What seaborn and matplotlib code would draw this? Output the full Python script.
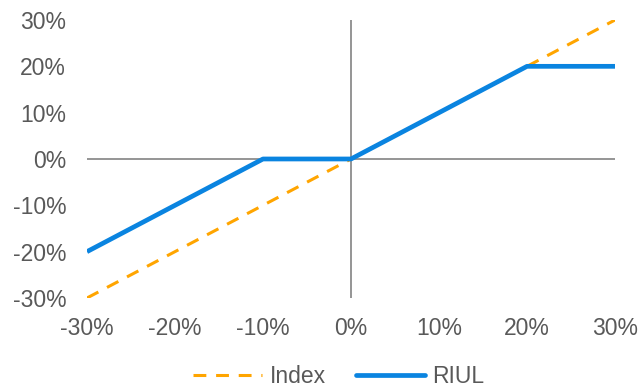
import matplotlib
matplotlib.use("Agg")
import matplotlib.pyplot as plt
import seaborn as sns
import pandas as pd
from matplotlib.ticker import PercentFormatter
from matplotlib.lines import Line2D

# Index return vs. RIUL credited return (%)
index_x = [-30, 30]
index_y = [-30, 30]
riul_x = [-30, -10, 0, 20, 30]
riul_y = [-20, 0, 0, 20, 20]
ticks = [-30, -20, -10, 0, 10, 20, 30]

sns.set_style("white")
plt.rcParams["font.family"] = ["Liberation Sans", "DejaVu Sans"]
plt.rcParams["axes.unicode_minus"] = False

df = pd.concat([
    pd.DataFrame({"x": index_x, "y": index_y, "series": "Index"}),
    pd.DataFrame({"x": riul_x, "y": riul_y, "series": "RIUL"}),
])

DASH = (4.2, 3.2)

fig = plt.figure(figsize=(6.43, 3.89), dpi=100)
ax = fig.add_axes([0.1353, 0.234, 0.8212, 0.7146])

ax.axhline(0, color="#8c8c8c", lw=1.3, zorder=1)
ax.axvline(0, color="#8c8c8c", lw=1.3, zorder=1)

sns.lineplot(data=df, x="x", y="y", hue="series", style="series",
             palette={"Index": "#FFA500", "RIUL": "#0A84E0"},
             dashes={"Index": DASH, "RIUL": ""},
             size="series", sizes={"Index": 2.2, "RIUL": 3.4},
             ax=ax, legend=False, zorder=3)
for ln in ax.lines[2:]:
    ln.set_solid_capstyle("butt")
    ln.set_dash_capstyle("butt")

ax.set_xlim(-30, 30)
ax.set_ylim(-30, 30)
ax.set_xticks(ticks)
ax.set_yticks(ticks)
ax.xaxis.set_major_formatter(PercentFormatter(decimals=0))
ax.yaxis.set_major_formatter(PercentFormatter(decimals=0))
ax.tick_params(axis="both", length=0, labelsize=16.5, colors="#595959")
ax.tick_params(axis="x", pad=14)
ax.tick_params(axis="y", pad=15)
ax.set_xlabel("")
ax.set_ylabel("")
for s in ax.spines.values():
    s.set_visible(False)

handles = [Line2D([], [], color="#FFA500", lw=2.2, ls=(0, DASH)),
           Line2D([], [], color="#0A84E0", lw=3.4)]
leg = fig.legend(handles, ["Index", "RIUL"], loc="center", ncol=2,
                 bbox_to_anchor=(0.527, 0.032), frameon=False,
                 fontsize=16.5, handlelength=3.0, columnspacing=1.3,
                 handletextpad=0.35, borderaxespad=0, borderpad=0)
for t in leg.get_texts():
    t.set_color("#595959")

fig.savefig("out.png", dpi=100)
